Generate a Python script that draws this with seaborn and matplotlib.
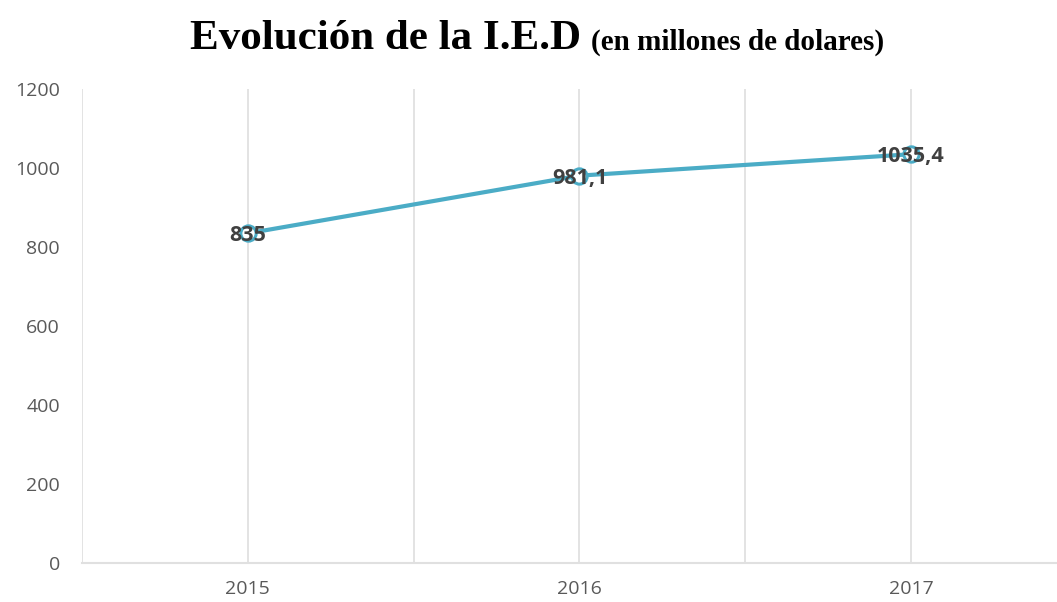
import matplotlib
matplotlib.use("Agg")
import matplotlib.pyplot as plt
import pandas as pd
import seaborn as sns

# data
years = ["2015", "2016", "2017"]
ied = [835, 981.1, 1035.4]
labels = ["835", "981,1", "1035,4"]

df = pd.DataFrame({"year": years, "ied": ied})

sns.set_style("white")
plt.rcParams["font.family"] = ["Open Sans", "DejaVu Sans"]

fig = plt.figure(figsize=(10.57, 6.02), dpi=100)
ax = fig.add_axes([0.0776, 0.0648, 0.9224, 0.787])

grid_c = "#E0E0E0"
line_c = "#4BACC6"

sns.lineplot(data=df, x="year", y="ied", ax=ax, color=line_c, linewidth=3.0,
             marker="o", markersize=11, markerfacecolor="white",
             markeredgecolor=line_c, markeredgewidth=2.2, zorder=3)

for i, (v, t) in enumerate(zip(ied, labels)):
    ax.text(i, v - 6, t, ha="center", va="center", fontsize=15.5, fontweight="bold",
            color="#404040", zorder=4)

ax.set_xlim(-0.5, 2.44)
ax.set_ylim(0, 1200)
ax.set_yticks(range(0, 1201, 200))
ax.set_xticks([0, 1, 2])
ax.set_xticklabels(years)
ax.set_xticks([-0.5, 0.5, 1.5], minor=True)
ax.grid(True, axis="x", which="both", color=grid_c, linewidth=1.3)
ax.grid(False, axis="y")
ax.set_axisbelow(True)
ax.tick_params(axis="both", which="both", length=0, labelsize=14, labelcolor="#595959")
ax.tick_params(axis="y", pad=16)
ax.tick_params(axis="x", pad=12)
ax.set_xlabel("")
ax.set_ylabel("")
for s in ["top", "right", "left"]:
    ax.spines[s].set_visible(False)
ax.spines["bottom"].set_color(grid_c)
ax.spines["bottom"].set_linewidth(1.5)

# title in two sizes
t1 = fig.text(0.18, 0.918, "Evolución de la I.E.D", fontsize=31, fontweight="bold",
              family=["Liberation Serif"], color="#000000", va="baseline")
fig.canvas.draw()
bb = t1.get_window_extent()
x2 = (bb.x1 + 10) / fig.bbox.width
fig.text(x2, 0.918, "(en millones de dolares)", fontsize=21, fontweight="bold",
         family=["Liberation Serif"], color="#000000", va="baseline")

fig.savefig("out.png", dpi=100)
